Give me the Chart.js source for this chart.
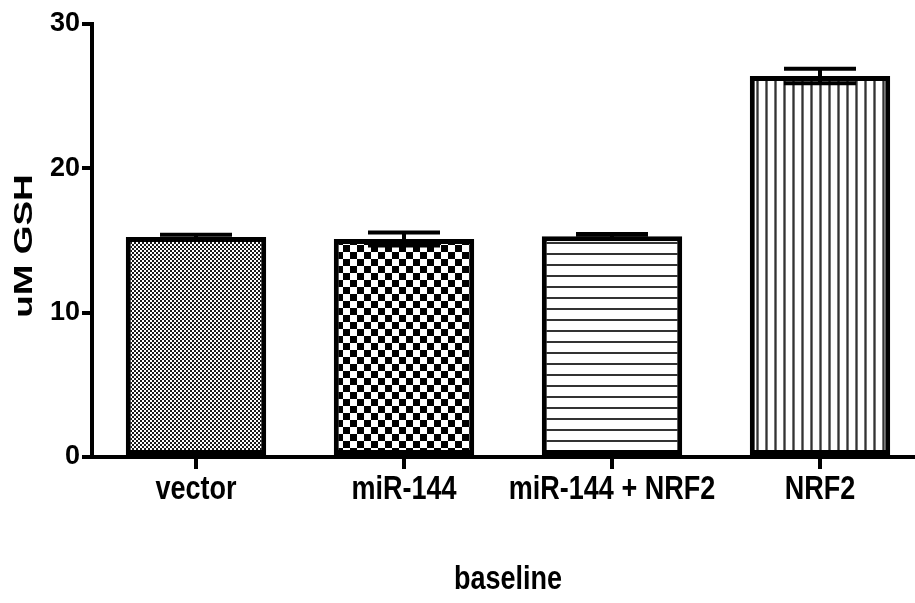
<!DOCTYPE html>
<html>
<head>
<meta charset="utf-8">
<script src="https://cdn.jsdelivr.net/npm/chart.js@4/dist/chart.umd.min.js"></script>
<style>
  html, body { margin: 0; padding: 0; background: #fff; overflow: hidden; }
  #wrap { width: 935px; height: 603px; }
</style>
</head>
<body>
<div id="wrap"><canvas id="c" width="935" height="603"></canvas></div>
<script>
// GSH levels at baseline
const categories = ['vector', 'miR-144', 'miR-144 + NRF2', 'NRF2'];
const gshMean = [15.25, 15.1, 15.3, 26.4];
const gshErr = [0.15, 0.45, 0.15, 0.5];
const yTicks = [0, 10, 20, 30];
const xTitle = 'baseline';
const yTitle = 'uM GSH';

const FONT = "'Liberation Sans', Arial, sans-serif";

function makePattern(w, h, paint) {
  const cv = document.createElement('canvas');
  cv.width = w; cv.height = h;
  const g = cv.getContext('2d');
  g.fillStyle = '#fff';
  g.fillRect(0, 0, w, h);
  paint(g);
  return document.getElementById('c').getContext('2d').createPattern(cv, 'repeat');
}

const fills = [
  // fine checker
  makePattern(4, 4, g => { g.fillStyle = '#1a1a1a'; g.fillRect(0, 0, 2, 2); g.fillRect(2, 2, 2, 2); }),
  // coarse checker
  makePattern(14, 14, g => { g.fillStyle = '#000'; g.fillRect(0, 0, 7, 7); g.fillRect(7, 7, 7, 7); }),
  // horizontal lines
  makePattern(8, 11, g => { g.fillStyle = '#333'; g.fillRect(0, 0, 8, 2); }),
  // vertical lines
  makePattern(9, 8, g => { g.fillStyle = '#777'; g.fillRect(0, 0, 3, 8); g.fillStyle = '#333'; g.fillRect(1, 0, 1, 8); })
];

// mean ± error whiskers with caps
const errorBars = {
  id: 'errorBars',
  afterDatasetsDraw(chart) {
    const ctx = chart.ctx;
    const y = chart.scales.y;
    const meta = chart.getDatasetMeta(0);
    ctx.save();
    ctx.strokeStyle = '#000';
    ctx.lineWidth = 4;
    ctx.lineCap = 'butt';
    meta.data.forEach((bar, i) => {
      const hi = y.getPixelForValue(gshMean[i] + gshErr[i]);
      const lo = y.getPixelForValue(gshMean[i] - gshErr[i]);
      const half = 36;
      ctx.beginPath();
      ctx.moveTo(bar.x, lo); ctx.lineTo(bar.x, hi);
      ctx.moveTo(bar.x - half, hi); ctx.lineTo(bar.x + half, hi);
      ctx.moveTo(bar.x - half, lo); ctx.lineTo(bar.x + half, lo);
      ctx.stroke();
    });
    ctx.restore();
  }
};

// tall, condensed-looking lettering for category labels and axis titles
function drawStretched(ctx, text, x, y, size, sx, sy, rotate) {
  ctx.save();
  ctx.translate(x, y);
  if (rotate) ctx.rotate(-Math.PI / 2);
  ctx.scale(sx, sy);
  ctx.font = 'bold ' + size + 'px ' + FONT;
  ctx.fillStyle = '#000';
  ctx.textAlign = 'center';
  ctx.textBaseline = 'middle';
  ctx.fillText(text, 0, 0);
  ctx.restore();
}

const axisText = {
  id: 'axisText',
  afterDraw(chart) {
    const ctx = chart.ctx;
    const xs = chart.scales.x;
    const area = chart.chartArea;
    categories.forEach((c, i) => {
      drawStretched(ctx, c, xs.getPixelForTick(i), 490, 27, 1, 1.25, false);
    });
    drawStretched(ctx, xTitle, (area.left + area.right) / 2, 580, 27, 1, 1.25, false);
    drawStretched(ctx, yTitle, 25, 246, 26, 1.42, 1, true);
  }
};

new Chart(document.getElementById('c'), {
  type: 'bar',
  data: {
    labels: categories,
    datasets: [{
      data: gshMean,
      backgroundColor: fills,
      borderColor: '#000',
      borderWidth: 5,
      borderSkipped: false,
      barPercentage: 1,
      categoryPercentage: 0.675
    }]
  },
  options: {
    responsive: false,
    animation: false,
    devicePixelRatio: 1,
    layout: { padding: { top: 24, right: 11, left: 0, bottom: 0 } },
    plugins: { legend: { display: false }, tooltip: { enabled: false } },
    scales: {
      x: {
        offset: true,
        grid: { display: true, drawOnChartArea: false, offset: false, color: '#000', lineWidth: 4, tickLength: 12 },
        border: { display: true, color: '#000', width: 4 },
        ticks: { display: false },
        afterFit(scale) { scale.height = 603 - 457; }
      },
      y: {
        min: 0, max: 30,
        afterBuildTicks(scale) { scale.ticks = yTicks.map(v => ({ value: v })); },
        grid: { display: true, drawOnChartArea: false, color: '#000', lineWidth: 4, tickLength: 10 },
        border: { display: true, color: '#000', width: 4 },
        ticks: { color: '#000', font: { family: FONT, size: 27, weight: 'bold' }, padding: 2 },
        afterFit(scale) { scale.width = 92; }
      }
    }
  },
  plugins: [errorBars, axisText]
});
</script>
</body>
</html>
